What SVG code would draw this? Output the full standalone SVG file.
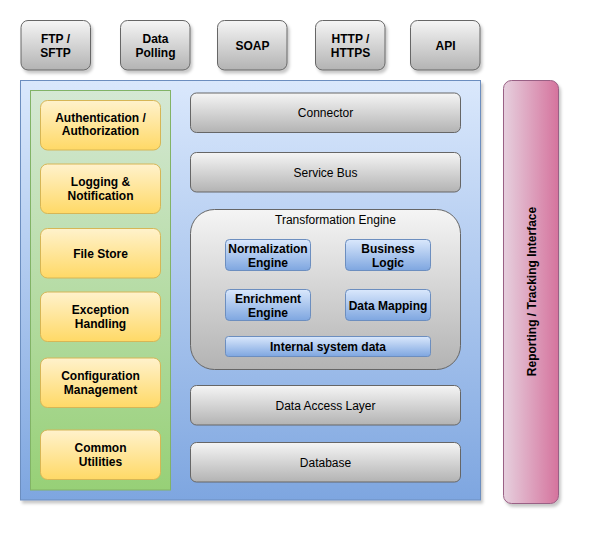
<svg xmlns="http://www.w3.org/2000/svg" width="590" height="535" viewBox="0 0 590 535">
<defs>
<linearGradient id="gGray" x1="0" y1="0" x2="0" y2="1"><stop offset="0" stop-color="#f5f5f5"/><stop offset="1" stop-color="#b3b3b3"/></linearGradient>
<linearGradient id="gBlue" x1="0" y1="0" x2="0" y2="1"><stop offset="0" stop-color="#dae8fc"/><stop offset="1" stop-color="#7ea6e0"/></linearGradient>
<linearGradient id="gGreen" x1="0" y1="0" x2="0" y2="1"><stop offset="0" stop-color="#d5e8d4"/><stop offset="1" stop-color="#97d077"/></linearGradient>
<linearGradient id="gYellow" x1="0" y1="0" x2="0" y2="1"><stop offset="0" stop-color="#fff2cc"/><stop offset="1" stop-color="#ffd966"/></linearGradient>
<linearGradient id="gPink" x1="0" y1="0" x2="1" y2="0"><stop offset="0" stop-color="#e6d0de"/><stop offset="1" stop-color="#d5739d"/></linearGradient>
<filter id="sh" x="-10%" y="-10%" width="130%" height="130%"><feDropShadow dx="2" dy="3" stdDeviation="1.5" flood-color="#000" flood-opacity="0.22"/></filter>
</defs>
<style>
text{font-family:"Liberation Sans",Arial,sans-serif;font-size:12px;text-anchor:middle;dominant-baseline:central;fill:#000}
.b{font-weight:bold}
.gray{fill:url(#gGray);stroke:#666666;stroke-width:1}
.yel{fill:url(#gYellow);stroke:#d6b656;stroke-width:1}
.blu{fill:url(#gBlue);stroke:#6c8ebf;stroke-width:1}
</style>
<rect width="590" height="535" fill="#ffffff"/>

<g id="ftp"><rect class="gray" x="21" y="20.5" width="69.5" height="49.5" rx="7" filter="url(#sh)"/><text class="b" x="55.5" y="38.5">FTP /</text><text class="b" x="55.5" y="52.5">SFTP</text></g>
<g id="polling"><rect class="gray" x="120.5" y="20.5" width="69.5" height="49.5" rx="7" filter="url(#sh)"/><text class="b" x="155.5" y="38.5">Data</text><text class="b" x="155.5" y="52.5">Polling</text></g>
<g id="soap"><rect class="gray" x="217.5" y="20.5" width="69.5" height="49.5" rx="7" filter="url(#sh)"/><text class="b" x="252.5" y="45.5">SOAP</text></g>
<g id="http"><rect class="gray" x="315.5" y="20.5" width="69.5" height="49.5" rx="7" filter="url(#sh)"/><text class="b" x="350.5" y="38.5">HTTP /</text><text class="b" x="350.5" y="52.5">HTTPS</text></g>
<g id="api"><rect class="gray" x="410.5" y="20.5" width="69.5" height="49.5" rx="7" filter="url(#sh)"/><text class="b" x="445.5" y="45.5">API</text></g>

<g id="platform"><rect x="20.5" y="80.5" width="460" height="419.5" fill="url(#gBlue)" stroke="#6c8ebf" filter="url(#sh)"/></g>

<g id="crosscutting"><rect x="30.5" y="90.5" width="140" height="399.5" fill="url(#gGreen)" stroke="#82b366"/></g>

<g id="auth"><rect class="yel" x="40.5" y="100.5" width="120" height="49.5" rx="7"/><text class="b" x="100.5" y="117.5">Authentication /</text><text class="b" x="100.5" y="131">Authorization</text></g>
<g id="logging"><rect class="yel" x="40.5" y="164" width="120" height="49.5" rx="7"/><text class="b" x="100.5" y="182">Logging &amp;</text><text class="b" x="100.5" y="196">Notification</text></g>
<g id="filestore"><rect class="yel" x="40.5" y="228.5" width="120" height="49.5" rx="7"/><text class="b" x="100.5" y="253.5">File Store</text></g>
<g id="exception"><rect class="yel" x="40.5" y="292" width="120" height="49.5" rx="7"/><text class="b" x="100.5" y="310">Exception</text><text class="b" x="100.5" y="324">Handling</text></g>
<g id="config"><rect class="yel" x="40.5" y="358" width="120" height="49.5" rx="7"/><text class="b" x="100.5" y="375.5">Configuration</text><text class="b" x="100.5" y="389.5">Management</text></g>
<g id="common"><rect class="yel" x="40.5" y="430" width="120" height="49.5" rx="7"/><text class="b" x="100.5" y="448">Common</text><text class="b" x="100.5" y="462">Utilities</text></g>

<g id="connector"><rect class="gray" x="190.5" y="93" width="270" height="39.5" rx="6"/><text x="325.5" y="112.5">Connector</text></g>
<g id="servicebus"><rect class="gray" x="190.5" y="152.5" width="270" height="39.5" rx="6"/><text x="325.5" y="172.5">Service Bus</text></g>

<g id="transformation"><rect class="gray" x="190.5" y="209.5" width="270" height="160" rx="24"/><text x="335.5" y="219.5">Transformation Engine</text></g>
<g id="normalization"><rect class="blu" x="225.5" y="239.5" width="85" height="31" rx="4"/><text class="b" x="268" y="248.5">Normalization</text><text class="b" x="268" y="262.5">Engine</text></g>
<g id="business"><rect class="blu" x="345.5" y="239.5" width="85" height="31" rx="4"/><text class="b" x="388" y="248.5">Business</text><text class="b" x="388" y="262.5">Logic</text></g>
<g id="enrichment"><rect class="blu" x="225.5" y="289.5" width="85" height="31" rx="4"/><text class="b" x="268" y="298.5">Enrichment</text><text class="b" x="268" y="312.5">Engine</text></g>
<g id="mapping"><rect class="blu" x="345.5" y="289.5" width="85" height="31" rx="4"/><text class="b" x="388" y="306">Data Mapping</text></g>
<g id="internal"><rect class="blu" x="225.5" y="336.5" width="205" height="20" rx="3"/><text class="b" x="328" y="346.5">Internal system data</text></g>

<g id="dal"><rect class="gray" x="190.5" y="385.5" width="270" height="39.5" rx="6"/><text x="325.5" y="405.5">Data Access Layer</text></g>
<g id="database"><rect class="gray" x="190.5" y="442.5" width="270" height="39.5" rx="6"/><text x="325.5" y="462.5">Database</text></g>

<g id="reporting"><rect x="503.5" y="80.5" width="55" height="423" rx="8" fill="url(#gPink)" stroke="#996185" filter="url(#sh)"/><text class="b" x="0" y="0" transform="translate(531.5,291.5) rotate(-90)">Reporting / Tracking Interface</text></g>

<g id="connectors"></g>
</svg>
